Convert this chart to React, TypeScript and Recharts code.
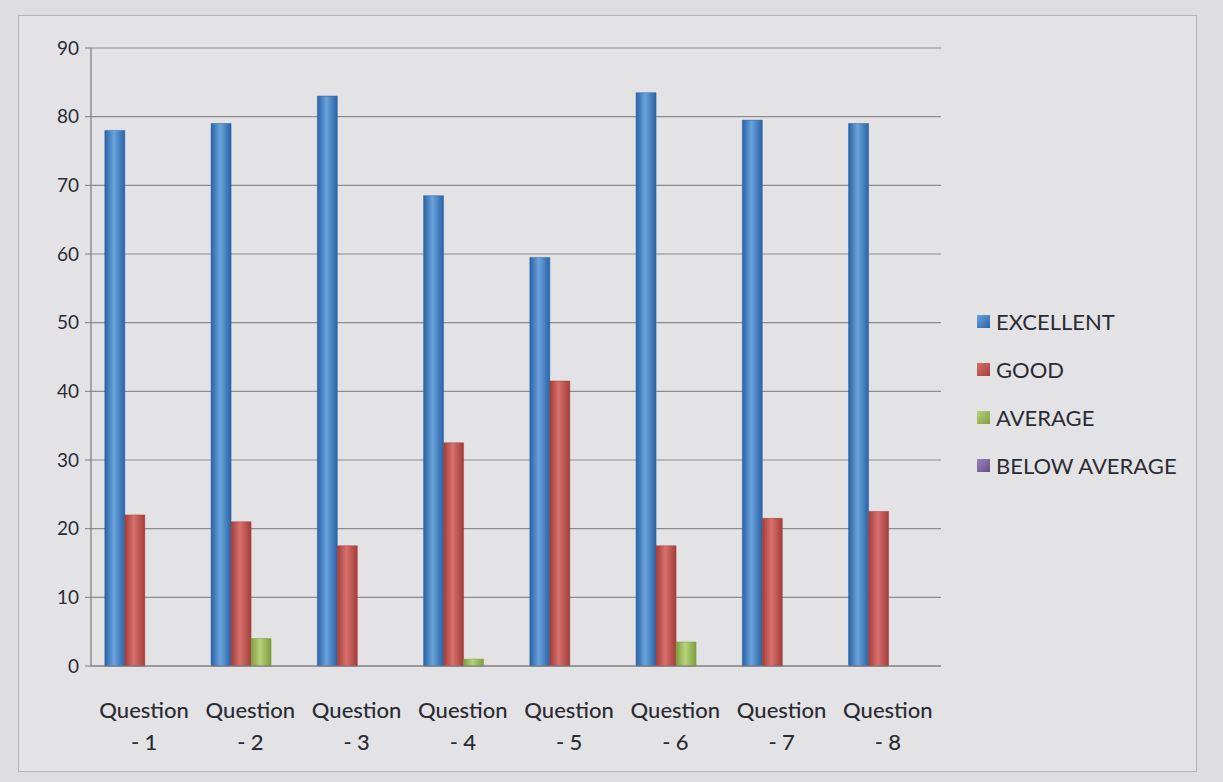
import React from "react"
import { BarChart, Bar, XAxis, YAxis, CartesianGrid, Legend } from "recharts"

const questions = ["Question - 1", "Question - 2", "Question - 3", "Question - 4", "Question - 5", "Question - 6", "Question - 7", "Question - 8"]
const excellent = [78, 79, 83, 68.5, 59.5, 83.5, 79.5, 79]
const good = [22, 21, 17.5, 32.5, 41.5, 17.5, 21.5, 22.5]
const average = [0, 4, 0, 1, 0, 3.5, 0, 0]
const belowAverage = [0, 0, 0, 0, 0, 0, 0, 0]
const yTicks = [0, 10, 20, 30, 40, 50, 60, 70, 80, 90]

const data = questions.map((q, i) => ({
  question: q,
  excellent: excellent[i],
  good: good[i],
  average: average[i],
  belowAverage: belowAverage[i],
}))

const series = [
  { key: "excellent", name: "EXCELLENT", color: "#3f7fc4", dark: "#2a63a6", light: "#6aa3dc" },
  { key: "good", name: "GOOD", color: "#c0504d", dark: "#a33d3a", light: "#d8716d" },
  { key: "average", name: "AVERAGE", color: "#9bbb59", dark: "#7f9d3f", light: "#b8d27a" },
  { key: "belowAverage", name: "BELOW AVERAGE", color: "#8064a2", dark: "#654d85", light: "#9e85be" },
]

const FONT = "Lato, 'Open Sans', sans-serif"

// two-line category label, "Question" over "- n"
const QuestionTick = (props: any) => {
  const { x, y, payload } = props
  const [first, num] = (payload.value as string).split(" - ")
  return (
    <text x={x} y={y} textAnchor="middle" fill="#2b2b33" fontSize={22} fontFamily={FONT} fontWeight={500}>
      <tspan x={x} dy={44}>{first}</tspan>
      <tspan x={x} dy={32}>{"- " + num}</tspan>
    </text>
  )
}

const LegendContent = () => (
  <div style={{ paddingLeft: 36, fontFamily: FONT, fontSize: 22, color: "#2b2b33", whiteSpace: "nowrap" }}>
    {series.map((s) => (
      <div key={s.key} style={{ display: "flex", alignItems: "center", height: 48 }}>
        <span
          style={{
            width: 13,
            height: 13,
            flexShrink: 0,
            marginRight: 6,
            background: `linear-gradient(135deg, ${s.light}, ${s.dark})`,
            display: "inline-block",
          }}
        />
        <span>{s.name}</span>
      </div>
    ))}
  </div>
)

export default function App() {
  return (
    <div style={{ position: "absolute", left: 0, top: 0, width: 1223, height: 782, background: "#dedee2" }}>
      <div
        style={{
          position: "absolute",
          left: 18,
          top: 15,
          width: 1177,
          height: 755,
          border: "1px solid #b4b4b8",
          background: "#e3e3e6",
        }}
      >
        <BarChart
          width={1177}
          height={755}
          data={data}
          margin={{ top: 32, right: 25, left: 0, bottom: 0 }}
          barCategoryGap="13%"
          barGap={0}
        >
          <defs>
            {series.map((s) => (
              <linearGradient key={s.key} id={"g-" + s.key} x1="0" y1="0" x2="1" y2="0">
                <stop offset="0%" stopColor={s.dark} />
                <stop offset="45%" stopColor={s.light} />
                <stop offset="100%" stopColor={s.dark} />
              </linearGradient>
            ))}
          </defs>
          <CartesianGrid vertical={false} stroke="#8c8c90" strokeWidth={1.2} />
          <XAxis
            dataKey="question"
            height={105}
            tick={<QuestionTick />}
            tickLine={false}
            axisLine={{ stroke: "#7a7a80", strokeWidth: 1.2 }}
            interval={0}
          />
          <YAxis
            width={72}
            domain={[0, 90]}
            ticks={yTicks}
            tick={{ fontSize: 19, fill: "#2b2b33", fontFamily: FONT }}
            tickLine={{ stroke: "#7a7a80" }}
            axisLine={{ stroke: "#7a7a80", strokeWidth: 1.2 }}
            tickMargin={6}
          />
          <Legend
            layout="vertical"
            align="right"
            verticalAlign="middle"
            width={230}
            content={<LegendContent />}
          />
          {series.map((s) => (
            <Bar
              key={s.key}
              dataKey={s.key}
              name={s.name}
              fill={`url(#g-${s.key})`}
              stroke={s.dark}
              strokeWidth={0.5}
              isAnimationActive={false}
            />
          ))}
        </BarChart>
      </div>
    </div>
  )
}
